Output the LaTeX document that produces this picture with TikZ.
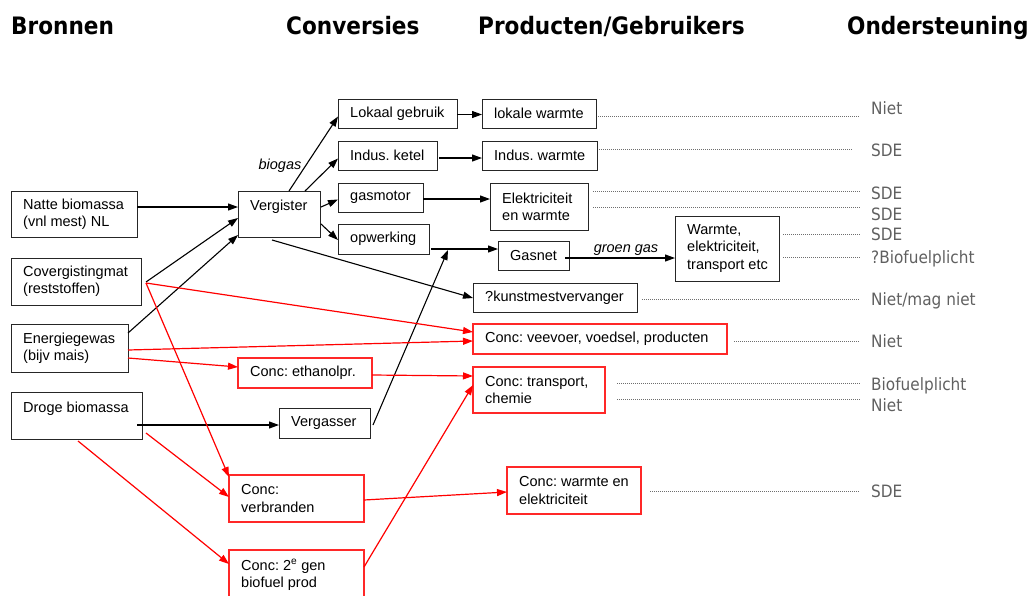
\documentclass[tikz,border=0pt]{standalone}
\usepackage{fontspec}
\setmainfont{Liberation Sans}
\newfontfamily\hdrfont[FakeStretch=0.9]{DejaVu Sans}
\newfontfamily\lblfont[FakeStretch=0.9]{DejaVu Sans}
\usetikzlibrary{arrows.meta,calc}
\definecolor{boxred}{RGB}{255,40,40}
\definecolor{lblgray}{RGB}{96,96,96}
\definecolor{dotgray}{RGB}{110,110,110}
\newcommand\mkbox[7]{%
  \pgfmathsetmacro\bw{#5-#3}%
  \pgfmathsetmacro\bh{#6-#4}%
  \node[#1, minimum width=\bw pt, minimum height=\bh pt] (#2) at ({(#3+#5)/2},{(#4+#6)/2}) {};
  \node[txt] (#2t) at ($(#2.west)+(12,0)$) {#7};}
\begin{document}
\frenchspacing
\begin{tikzpicture}[x=1pt,y=-1pt,
  bx/.style={draw=black!85, line width=1pt, inner sep=0pt, outer sep=0pt},
  rbx/.style={bx, draw=boxred, line width=1.1pt},
  txt/.style={anchor=west, inner sep=0pt, align=left, font=\fontsize{14.5}{17.3}\selectfont},
  arr/.style={line width=1.1pt, -{Triangle[length=10pt,width=7pt]}},
  rarr/.style={arr, red, line width=1.2pt},
  dotl/.style={dotgray, line width=0.7pt, dash pattern=on 1pt off 1pt},
  hdr/.style={anchor=base west, inner sep=0pt, font=\hdrfont\bfseries\fontsize{24}{28}\selectfont},
  lbl/.style={anchor=base west, inner sep=0pt, text=lblgray, font=\lblfont\fontsize{17}{20}\selectfont},
  elbl/.style={inner sep=0pt, anchor=base, font=\itshape\fontsize{14.5}{17}\selectfont}]
\useasboundingbox (0,0) rectangle (1029,595);
% headers
\node[hdr] (h1) at (11,34) {Bronnen};
\node[hdr] (h2) at (286,34) {Conversies};
\node[hdr] (h3) at (478,34) {Producten/Gebruikers};
\node[hdr] (h4) at (847,34) {Ondersteuning};
% boxes
\mkbox{bx}{natte}{11}{191}{137}{237}{Natte biomassa\\(vnl mest) NL}
\mkbox{bx}{verg}{238}{191}{320}{237}{Vergister\\\mbox{}}
\mkbox{bx}{cov}{11}{258}{141}{305}{Covergistingmat\\(reststoffen)}
\mkbox{bx}{energ}{11}{324}{128}{372}{Energiegewas\\(bijv mais)}
\mkbox{bx}{droge}{11}{392}{142}{439}{Droge biomassa\\\mbox{}}
\mkbox{bx}{lokaal}{338}{99}{457}{128}{Lokaal gebruik}
\mkbox{bx}{lokw}{482}{99}{596}{128}{lokale warmte}
\mkbox{bx}{ketel}{338}{141}{437}{170}{Indus. ketel}
\mkbox{bx}{indw}{482}{141}{597}{170}{Indus. warmte}
\mkbox{bx}{gasm}{338}{183}{423}{212}{gasmotor}
\mkbox{bx}{elek}{490}{183}{588}{230}{Elektriciteit\\en warmte}
\mkbox{bx}{opw}{338}{224}{429}{254}{opwerking}
\mkbox{bx}{gasnet}{498}{241}{569}{270}{Gasnet}
\mkbox{bx}{warmte}{675}{216}{779}{281}{Warmte,\\elektriciteit,\\transport etc}
\mkbox{bx}{kunst}{473}{283}{637}{312}{?kunstmestvervanger}
\mkbox{rbx}{veev}{473}{324}{727}{354}{Conc: veevoer, voedsel, producten}
\mkbox{rbx}{eth}{238}{358}{372}{388}{Conc: ethanolpr.}
\mkbox{bx}{verga}{279}{408}{370}{438}{Vergasser}
\mkbox{rbx}{trans}{473}{367}{605}{413}{Conc: transport,\\chemie}
\mkbox{rbx}{verbr}{229}{475}{364}{522}{Conc:\\verbranden}
\mkbox{rbx}{gen}{229}{550}{364}{600}{Conc: 2\textsuperscript{e} gen\\biofuel prod}
\mkbox{rbx}{wel}{507}{467}{641}{514}{Conc: warmte en\\elektriciteit}
% edge labels
\node[elbl] (biogas) at (280,169) {biogas};
\node[elbl] (groen) at (626,252) {groen gas};
% black connectors
\draw[arr] ($(natte.east)+(0,-7)$) -- ($(verg.west)+(0,-7)$);
\draw[arr] ($(cov.east)+(5,0.5)$) -- ($(verg.west)+(0,4)$);
\draw[arr] ($(energ.east)+(0,-15)$) -- ($(verg.south west)+(0,-2)$);
\draw[arr] ($(verg.north)+(10,0)$) -- ($(lokaal.west)+(0,3)$);
\draw[arr] ($(verg.north)+(26,0)$) -- ($(ketel.west)+(0,3)$);
\draw[arr] ($(verg.east)+(1,-7)$) -- ($(gasm.west)+(0,2)$);
\draw[arr] ($(verg.east)+(1,10)$) -- ($(opw.west)+(0,1)$);
\draw[arr] ($(verg.south)+(-7,3)$) -- ($(kunst.west)+(0,0.5)$);
\draw[arr] ($(lokaal.east)+(0,1)$) -- ($(lokw.west)+(0,1)$);
\draw[arr] ($(ketel.east)+(2,2.5)$) -- ($(indw.west)+(0,2.5)$);
\draw[arr] ($(gasm.east)+(0,1.5)$) -- ($(elek.west)+(0,-7.5)$);
\draw[arr] ($(opw.east)+(2,10)$) -- ($(gasnet.west)+(0,-6.5)$);
\coordinate (j) at ($(opw.east)+(19,11)$);
\draw[arr] ($(verga.east)+(3,2)$) -- (j);
\draw[arr] ($(droge.east)+(-5,9.5)$) -- ($(verga.west)+(0,2)$);
\draw[arr] ($(gasnet.east)+(-4,2.5)$) -- ($(warmte.west)+(0,9.5)$);
% red connectors
\draw[rarr] ($(cov.east)+(5,1.5)$) -- ($(veev.west)+(0,-7)$);
\draw[rarr] ($(cov.east)+(5,1.5)$) -- ($(verbr.north west)+(0,2)$);
\draw[rarr] ($(energ.east)+(0,2)$) -- ($(veev.west)+(0,2)$);
\draw[rarr] ($(energ.east)+(0,10)$) -- ($(eth.west)+(0,-6)$);
\draw[rarr] ($(eth.east)+(0,2)$) -- ($(trans.west)+(0,-14)$);
\draw[rarr] ($(droge.south east)+(4,-6)$) -- ($(verbr.west)+(0,-1.5)$);
\draw[rarr] ($(droge.south)+(1.5,2)$) -- ($(gen.west)+(0,-11)$);
\draw[rarr] ($(gen.east)+(0,-8)$) -- ($(trans.west)+(0,-5)$);
\draw[rarr] ($(verbr.east)+(0,1.5)$) -- ($(wel.west)+(0,1.5)$);
% support labels
\node[lbl] (l1) at (871,114) {Niet};
\node[lbl] (l2) at (871,156) {SDE};
\node[lbl] (l3) at (871,199) {SDE};
\node[lbl] (l4) at (871,220) {SDE};
\node[lbl] (l5) at (871,240) {SDE};
\node[lbl] (l6) at (871,263) {?Biofuelplicht};
\node[lbl] (l7) at (871,305) {Niet/mag niet};
\node[lbl] (l8) at (871,347) {Niet};
\node[lbl] (l9) at (871,390) {Biofuelplicht};
\node[lbl] (l10) at (871,411) {Niet};
\node[lbl] (l11) at (871,497) {SDE};
% dotted leaders
\draw[dotl] ($(lokw.east)+(2,2.5)$) -- ($(lokw.east -| l1.west)+(-11,2.5)$);
\draw[dotl] ($(indw.east)+(2,-6.5)$) -- ($(indw.east -| l2.west)+(-19,-6.5)$);
\draw[dotl] ($(elek.east)+(5,-15.5)$) -- ($(elek.east -| l3.west)+(-11,-15.5)$);
\draw[dotl] ($(elek.east)+(5,0.5)$) -- ($(elek.east -| l4.west)+(-11,0.5)$);
\draw[dotl] ($(warmte.east)+(4,-14.5)$) -- ($(warmte.east -| l5.west)+(-11,-14.5)$);
\draw[dotl] ($(warmte.east)+(4,8.5)$) -- ($(warmte.east -| l6.west)+(-11,8.5)$);
\draw[dotl] ($(kunst.east)+(5,1.5)$) -- ($(kunst.east -| l7.west)+(-11,1.5)$);
\draw[dotl] ($(veev.east)+(7,2)$) -- ($(veev.east -| l8.west)+(-11,2)$);
\draw[dotl] ($(trans.east)+(12,-7)$) -- ($(trans.east -| l9.west)+(-11,-7)$);
\draw[dotl] ($(trans.east)+(12,9)$) -- ($(trans.east -| l10.west)+(-11,9)$);
\draw[dotl] ($(wel.east)+(9,0.5)$) -- ($(wel.east -| l11.west)+(-11,0.5)$);
\end{tikzpicture}
\end{document}
